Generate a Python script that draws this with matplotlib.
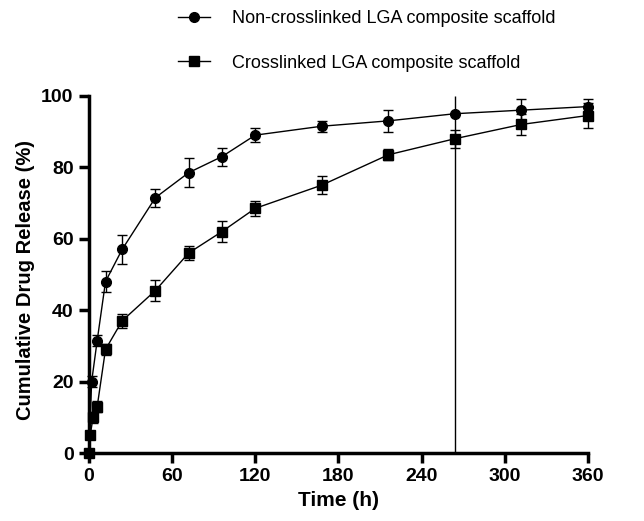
import matplotlib.pyplot as plt
from matplotlib.lines import Line2D
import numpy as np

plt.rcParams['font.family'] = ['Liberation Sans', 'DejaVu Sans']

# release profiles
t_non = [0, 2, 6, 12, 24, 48, 72, 96, 120, 168, 216, 264, 312, 360]
y_non = [0, 20, 31.5, 48, 57, 71.5, 78.5, 83, 89, 91.5, 93, 95, 96, 97]
e_non = [0, 1.5, 1.5, 3, 4, 2.5, 4, 2.5, 2, 1.5, 3, 0, 3, 2]

t_cl = [0, 1, 3, 6, 12, 24, 48, 72, 96, 120, 168, 216, 264, 312, 360]
y_cl = [0, 5, 10, 13, 29, 37, 45.5, 56, 62, 68.5, 75, 83.5, 88, 92, 94.5]
e_cl = [0, 0.5, 1.5, 1.5, 1.5, 2, 3, 2, 3, 2, 2.5, 1.5, 2.5, 3, 3.5]

labels = ['Non-crosslinked LGA composite scaffold', 'Crosslinked LGA composite scaffold']

# stray vertical line in the original figure
vline_x = 264
vline_range = (0, 100)

fig = plt.figure(figsize=(6.44, 5.21), dpi=100)
ax = fig.add_axes([0.138, 0.1305, 0.775, 0.6855])

ax.errorbar(t_non, y_non, yerr=e_non, color='black', marker='o', markersize=7,
            linewidth=1, capsize=3.5, elinewidth=1, capthick=1, clip_on=False, zorder=3)
ax.errorbar(t_cl, y_cl, yerr=e_cl, color='black', marker='s', markersize=7,
            linewidth=1, capsize=3.5, elinewidth=1, capthick=1, clip_on=False, zorder=3)
ax.vlines(vline_x, *vline_range, color='black', linewidth=1)

ax.set_xlim(0, 360)
ax.set_ylim(0, 100)
ax.set_xticks(np.arange(0, 361, 60))
ax.set_yticks(np.arange(0, 101, 20))

for s in ['top', 'right']:
    ax.spines[s].set_visible(False)
for s in ['left', 'bottom']:
    ax.spines[s].set_linewidth(2.5)
ax.tick_params(direction='out', width=2.5, length=7, labelsize=14, pad=4)
for lbl in ax.get_xticklabels() + ax.get_yticklabels():
    lbl.set_fontweight('bold')

ax.set_xlabel('Time (h)', fontsize=15, fontweight='bold', labelpad=4)
ax.set_ylabel('Cumulative Drug Release (%)', fontsize=14.5, fontweight='bold')
ax.yaxis.set_label_coords(-0.108, 0.485)

handles = [Line2D([], [], color='black', marker='o', markersize=7, linewidth=1),
           Line2D([], [], color='black', marker='s', markersize=7, linewidth=1)]
fig.legend(handles, labels, loc='upper left', bbox_to_anchor=(0.276, 0.98), frameon=False,
           fontsize=13, handlelength=1.8, handletextpad=1.2, labelspacing=1.5,
           borderpad=0, borderaxespad=0)

fig.savefig('out.png', dpi=100)
